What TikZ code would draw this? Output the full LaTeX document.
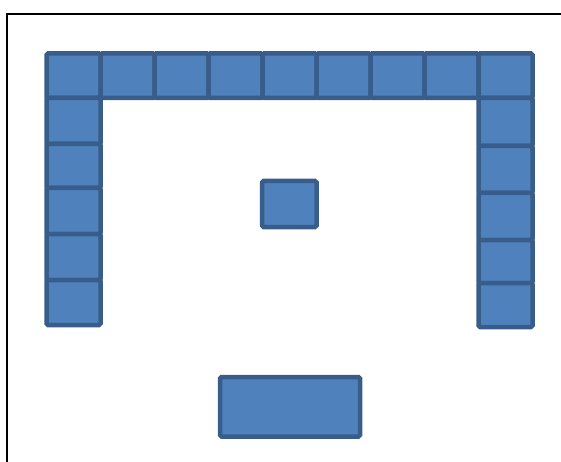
\documentclass[tikz,border=0pt]{standalone}
\begin{document}
\begin{tikzpicture}[x=1pt,y=-1pt,
  cell/.style={fill={rgb,255:red,79;green,129;blue,189},draw={rgb,255:red,56;green,93;blue,138},line width=4.5pt,rounded corners=1.5pt},
  frame/.style={draw=black,line width=2pt}]
\useasboundingbox (0,0) rectangle (561,462);
% frame
\draw[frame] (7,462) -- (7,14) -- (561,14);
% top row
\foreach \i in {0,...,8} {
  \draw[cell] ({46.5+54*\i},53.5) rectangle ({46.5+54*(\i+1)},98);
}
% left column
\foreach \a/\b in {98/144,144/188,188/234,234/280,280/325} {
  \draw[cell] (46.5,\a) rectangle (100.5,\b);
}
% right column
\foreach \a/\b in {98/146,146/193,193/240,240/283,283/327} {
  \draw[cell] (478.5,\a) rectangle (532.5,\b);
}
% centre box
\draw[cell] (262,181) rectangle (316.5,227);
% bottom box
\draw[cell] (220,377) rectangle (360,436.5);
\end{tikzpicture}
\end{document}
